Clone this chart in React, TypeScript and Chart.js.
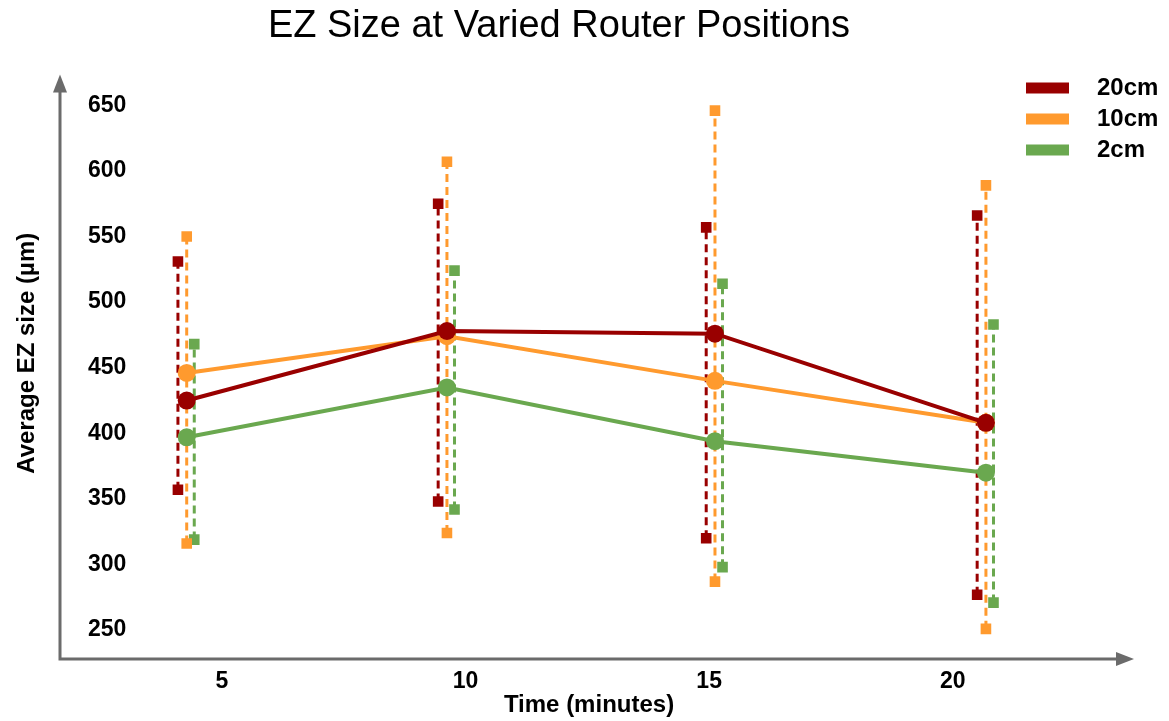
import React, { useEffect, useRef } from "react";
import { Chart, registerables } from "chart.js";

Chart.register(...registerables);

// ---- data ----
const seriesLabels = ["20cm", "10cm", "2cm"];
const timePositions = [4.28, 9.62, 15.12, 20.68];
const xTickValues = [5, 10, 15, 20];
const yTickValues = [250, 300, 350, 400, 450, 500, 550, 600, 650];

const mean20 = [425, 478, 476, 408];
const mean10 = [446, 474, 440, 408];
const mean2 = [397, 435, 394, 370];

const low20 = [357, 348, 320, 277];
const high20 = [531, 575, 557, 566];
const low10 = [316, 324, 287, 251];
const high10 = [550, 607, 646, 589];
const low2 = [319, 342, 298, 271];
const high2 = [468, 524, 514, 483];

const seriesColors = ["#990000", "#ff9a2e", "#6aa84f"];
const barOffsets = [-0.18, 0, 0.155];

const yTitle = "Average EZ size (µm)";
const FONT = "'Liberation Sans', Arial, Helvetica, sans-serif";

function meanData(values: number[]) {
  return values.map((v, i) => ({ x: timePositions[i], y: v }));
}

function barData(lows: number[], highs: number[], off: number) {
  const out: { x: number; y: number | null }[] = [];
  lows.forEach((lo, i) => {
    const x = timePositions[i] + off;
    out.push({ x, y: lo });
    out.push({ x, y: highs[i] });
    out.push({ x, y: null });
  });
  return out;
}

const axisArrows = {
  id: "axisArrows",
  beforeDatasetsDraw(chart: any) {
    const { ctx, chartArea } = chart;
    const { left, right, top, bottom } = chartArea;
    ctx.save();
    ctx.strokeStyle = "#6b6b6b";
    ctx.fillStyle = "#6b6b6b";
    ctx.lineWidth = 3;
    ctx.beginPath();
    ctx.moveTo(left, bottom);
    ctx.lineTo(left, top + 2);
    ctx.moveTo(left - 1.5, bottom);
    ctx.lineTo(right + 2, bottom);
    ctx.stroke();
    ctx.beginPath();
    ctx.moveTo(left, top - 15);
    ctx.lineTo(left - 7, top + 3);
    ctx.lineTo(left + 7, top + 3);
    ctx.closePath();
    ctx.fill();
    ctx.beginPath();
    ctx.moveTo(right + 16, bottom);
    ctx.lineTo(right - 2, bottom - 7);
    ctx.lineTo(right - 2, bottom + 7);
    ctx.closePath();
    ctx.fill();
    ctx.restore();
  },
};

const customLegendAndTitle = {
  id: "customLegendAndTitle",
  afterDraw(chart: any) {
    const { ctx, chartArea } = chart;
    const boxX = chart.width - 143;
    const textX = chart.width - 72;
    const startY = 88;
    const step = 31;
    ctx.save();
    ctx.font = `bold 24px ${FONT}`;
    ctx.textBaseline = "middle";
    ctx.textAlign = "left";
    seriesLabels.forEach((label, i) => {
      const y = startY + i * step;
      ctx.fillStyle = seriesColors[i];
      ctx.fillRect(boxX, y - 5.5, 43, 11);
      ctx.fillStyle = "#000";
      ctx.fillText(label, textX, y);
    });
    // y-axis title
    ctx.translate(chartArea.left - 33, (chartArea.top + chartArea.bottom) / 2 - 21);
    ctx.rotate(-Math.PI / 2);
    ctx.textAlign = "center";
    ctx.fillStyle = "#000";
    ctx.font = `bold 24px ${FONT}`;
    ctx.fillText(yTitle, 0, 0);
    ctx.restore();
  },
};

export default function App() {
  const canvasRef = useRef<HTMLCanvasElement | null>(null);

  useEffect(() => {
    document.body.style.margin = "0";
    const canvas = canvasRef.current;
    if (!canvas) return;

    const means = [mean20, mean10, mean2];
    const lows = [low20, low10, low2];
    const highs = [high20, high10, high2];

    const meanSets = means.map((m, i) => ({
      type: "line" as const,
      label: seriesLabels[i],
      data: meanData(m),
      borderColor: seriesColors[i],
      backgroundColor: seriesColors[i],
      borderWidth: 4,
      pointRadius: 9,
      pointHoverRadius: 9,
      pointBorderWidth: 0,
      pointStyle: "circle",
      order: i,
      tension: 0,
    }));

    const barSets = lows.map((lo, i) => ({
      type: "line" as const,
      label: seriesLabels[i] + " range",
      data: barData(lo, highs[i], barOffsets[i]),
      borderColor: seriesColors[i],
      backgroundColor: seriesColors[i],
      borderWidth: 3,
      borderDash: [8, 5],
      pointStyle: "rect",
      pointRadius: 7.5,
      pointHoverRadius: 7.5,
      pointBorderWidth: 0,
      spanGaps: false,
      order: 3 + i,
    }));

    const chart = new Chart(canvas, {
      type: "line",
      data: { datasets: [...meanSets, ...barSets] as any },
      options: {
        animation: false,
        responsive: true,
        maintainAspectRatio: false,
        layout: { padding: { left: 0, right: 51, top: 0, bottom: 0 } },
        plugins: {
          legend: { display: false },
          tooltip: { enabled: false },
          title: {
            display: true,
            text: "EZ Size at Varied Router Positions",
            color: "#000",
            font: { family: FONT, size: 38, weight: "normal", lineHeight: 1.2 },
            padding: { top: 4, bottom: 40 },
          },
        },
        scales: {
          x: {
            type: "linear",
            min: 1.68,
            max: 23.39,
            grid: { display: false },
            border: { display: false },
            afterBuildTicks: (scale: any) => {
              scale.ticks = xTickValues.map((v) => ({ value: v }));
            },
            afterFit: (scale: any) => {
              scale.height = 62;
            },
            ticks: {
              color: "#000",
              padding: 3,
              font: { family: FONT, size: 23, weight: "bold", lineHeight: 1 },
              callback: (v: any) => String(v),
            },
            title: {
              display: true,
              text: "Time (minutes)",
              color: "#000",
              font: { family: FONT, size: 24, weight: "bold", lineHeight: 1 },
              padding: { top: 0, bottom: 4 },
            },
          },
          y: {
            type: "linear",
            min: 228,
            max: 662,
            grid: { display: false },
            border: { display: false },
            afterBuildTicks: (scale: any) => {
              scale.ticks = yTickValues.map((v) => ({ value: v }));
            },
            afterFit: (scale: any) => {
              scale.width = 60;
            },
            ticks: {
              mirror: true,
              padding: 28,
              color: "#000",
              font: { family: FONT, size: 23, weight: "bold", lineHeight: 1 },
              callback: (v: any) => String(v),
            },
            title: { display: false },
          },
        },
      },
      plugins: [axisArrows, customLegendAndTitle],
    });

    return () => chart.destroy();
  }, []);

  return (
    <div style={{ position: "relative", width: "1169px", height: "721px" }}>
      <canvas ref={canvasRef} />
    </div>
  );
}
